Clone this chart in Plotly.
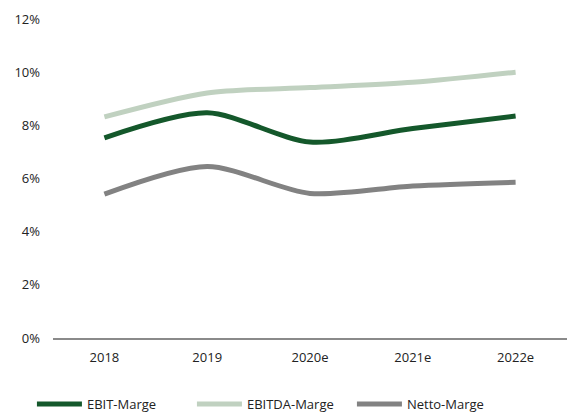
import plotly.graph_objects as go

years = ["2018", "2019", "2020e", "2021e", "2022e"]
ebit = [7.53, 8.47, 7.37, 7.88, 8.35]
ebitda = [8.32, 9.22, 9.42, 9.62, 10.0]
netto = [5.41, 6.45, 5.44, 5.72, 5.86]

series = [
    ("EBIT-Marge", ebit, "#14582b"),
    ("EBITDA-Marge", ebitda, "#c0d1c0"),
    ("Netto-Marge", netto, "#828282"),
]

fig = go.Figure()
for name, vals, col in series:
    fig.add_trace(go.Scatter(
        x=years, y=vals, name=name, mode="lines",
        line=dict(color=col, width=5, shape="spline", smoothing=0.8),
    ))

fig.update_layout(
    width=568, height=408,
    margin=dict(l=45, r=9, t=11, b=78, autoexpand=False),
    paper_bgcolor="white", plot_bgcolor="white",
    font=dict(family="Open Sans, Liberation Sans, sans-serif", size=13, color="#222222"),
    showlegend=True,
    legend=dict(orientation="h", x=-0.041, xanchor="left", y=-0.207, yanchor="middle",
                font=dict(size=13), entrywidth=100, entrywidthmode="pixels",
                itemwidth=45, tracegroupgap=0),
    xaxis=dict(showgrid=False, showline=True, linecolor="#8a8a8a", linewidth=2,
               ticks="", tickfont=dict(size=13), range=[-0.5, 4.5], automargin=False,
               ticklabelstandoff=6),
    yaxis=dict(range=[0, 12], dtick=2, ticksuffix="%", showgrid=False,
               showline=False, zeroline=False, ticks="", tickfont=dict(size=13),
               automargin=False, ticklabelstandoff=12),
)

fig.write_html("out.html")
